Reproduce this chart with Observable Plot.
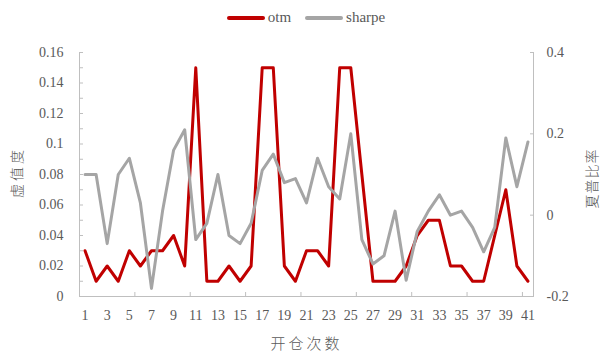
<!DOCTYPE html>
<html><head><meta charset="utf-8">
<script src="https://cdn.jsdelivr.net/npm/d3@7"></script>
<script src="https://cdn.jsdelivr.net/npm/@observablehq/plot@0.6"></script>
<style>
body{margin:0;background:#fff;}
#legend{height:35px;display:flex;justify-content:center;align-items:center;font-family:"Liberation Serif","Times New Roman","DejaVu Serif",serif;font-size:15px;color:#595959;}
.item{display:flex;align-items:center;margin:0 7px;}
.sw{display:inline-block;width:38px;height:4px;border-radius:2px;margin-right:3px;}
svg text{font-family:"Liberation Serif","Times New Roman","DejaVu Serif",serif;}
svg text.cjk{font-family:"Noto Sans CJK SC",sans-serif;}
</style></head><body>
<div id="legend"></div>
<div id="chart"></div>
<script>
const opens = d3.range(1, 42);
const otm = [0.03,0.01,0.02,0.01,0.03,0.02,0.03,0.03,0.04,0.02,
             0.15,0.01,0.01,0.02,0.01,0.02,0.15,0.15,0.02,0.01,
             0.03,0.03,0.02,0.15,0.15,0.08,0.01,0.01,0.01,0.02,
             0.04,0.05,0.05,0.02,0.02,0.01,0.01,0.04,0.07,0.02,0.01];
const sharpe = [0.10,0.10,-0.07,0.10,0.14,0.03,-0.18,0.01,0.16,0.21,
                -0.06,-0.02,0.10,-0.05,-0.07,-0.02,0.11,0.15,0.08,0.09,
                0.03,0.14,0.07,0.04,0.20,-0.06,-0.12,-0.10,0.01,-0.16,
                -0.04,0.01,0.05,0.00,0.01,-0.03,-0.09,-0.03,0.19,0.07,0.18];
const seriesNames = ["otm", "sharpe"];
const colors = ["#C00000", "#A5A5A5"];
const leftTicks = [0,0.02,0.04,0.06,0.08,0.1,0.12,0.14,0.16];
const leftMinorTicks = [0,0.01,0.02,0.03,0.04,0.05,0.06,0.07,0.08,0.09,0.1,0.11,0.12,0.13,0.14,0.15,0.16];
const rightTicks = [-0.2,0,0.2,0.4];
const xLabels = [1,3,5,7,9,11,13,15,17,19,21,23,25,27,29,31,33,35,37,39,41];
const xTickMarks = [0.5,5.5,10.5,15.5,20.5,25.5,30.5,35.5,40.5];
const xTitle = "开仓次数", yTitle = "虚值度", y2Title = "夏普比率";

const yDom = [0, 0.16], y2Dom = [-0.2, 0.4];
const toY = s => yDom[0] + (s - y2Dom[0]) / (y2Dom[1] - y2Dom[0]) * (yDom[1] - yDom[0]);

const otmData = opens.map((x, i) => ({x, v: otm[i]}));
const shData = opens.map((x, i) => ({x, v: toY(sharpe[i])}));

// legend
const lg = document.getElementById("legend");
seriesNames.forEach((n, i) => {
  const it = document.createElement("span"); it.className = "item";
  const sw = document.createElement("span"); sw.className = "sw"; sw.style.background = colors[i];
  it.appendChild(sw); it.appendChild(document.createTextNode(n)); lg.appendChild(it);
});

const fmt = d => String(+(+d).toFixed(2));
const axisColor = "#BFBFBF";
const cjk = sp => (i, s, v, d, c, next) => {
  const g = next(i, s, v, d, c);
  g.querySelectorAll("text").forEach(t => { t.setAttribute("class", "cjk"); t.style.letterSpacing = sp; });
  return g;
};
const chart = Plot.plot({
  width: 612, height: 328,
  marginTop: 17, marginBottom: 67, marginLeft: 79, marginRight: 79,
  x: {domain: [0.5, 41.5]},
  y: {domain: yDom},
  style: {fontFamily: "'Liberation Serif', 'Times New Roman', serif", fontSize: "14px", color: "#595959", background: "#fff", overflow: "visible"},
  marks: [
    Plot.ruleY([0], {stroke: axisColor, strokeWidth: 1}),
    Plot.ruleX([0.5, 41.5], {stroke: axisColor, strokeWidth: 1}),
    Plot.axisX(xTickMarks, {anchor: "bottom", text: null, tickSize: -4, stroke: axisColor, label: null}),
    Plot.axisX(xLabels, {anchor: "bottom", tickSize: 0, tickPadding: 14, fill: "#595959", label: null}),
    Plot.axisY(leftMinorTicks, {anchor: "left", text: null, tickSize: -4, stroke: axisColor, label: null}),
    Plot.axisY(leftTicks, {anchor: "left", tickSize: 0, tickPadding: 16, tickFormat: fmt, fill: "#595959", label: null}),
    Plot.axisY(rightTicks.map(toY), {anchor: "right", text: null, tickSize: -4, stroke: axisColor, label: null}),
    Plot.axisY(rightTicks.map(toY), {anchor: "right", tickSize: 0, tickPadding: 13, fill: "#595959", label: null,
      tickFormat: (d, i) => fmt(rightTicks[i])}),
    Plot.line(otmData, {x: "x", y: "v", stroke: colors[0], strokeWidth: 3, strokeLinejoin: "round", strokeLinecap: "round"}),
    Plot.line(shData, {x: "x", y: "v", stroke: colors[1], strokeWidth: 3, strokeLinejoin: "round", strokeLinecap: "round"}),
    Plot.text([xTitle], {frameAnchor: "bottom", dy: 52, fill: "#595959", fontSize: 15, fontWeight: 300, render: cjk("3px")}),
    Plot.text([yTitle], {frameAnchor: "left", textAnchor: "middle", dx: -62, dy: -2, rotate: -90, fill: "#595959", fontSize: 14, fontWeight: 300, render: cjk("3px")}),
    Plot.text([y2Title], {frameAnchor: "right", textAnchor: "middle", dx: 59, dy: 4, rotate: -90, fill: "#595959", fontSize: 14, fontWeight: 300, render: cjk("1px")})
  ]
});
document.getElementById("chart").appendChild(chart);
</script></body></html>
